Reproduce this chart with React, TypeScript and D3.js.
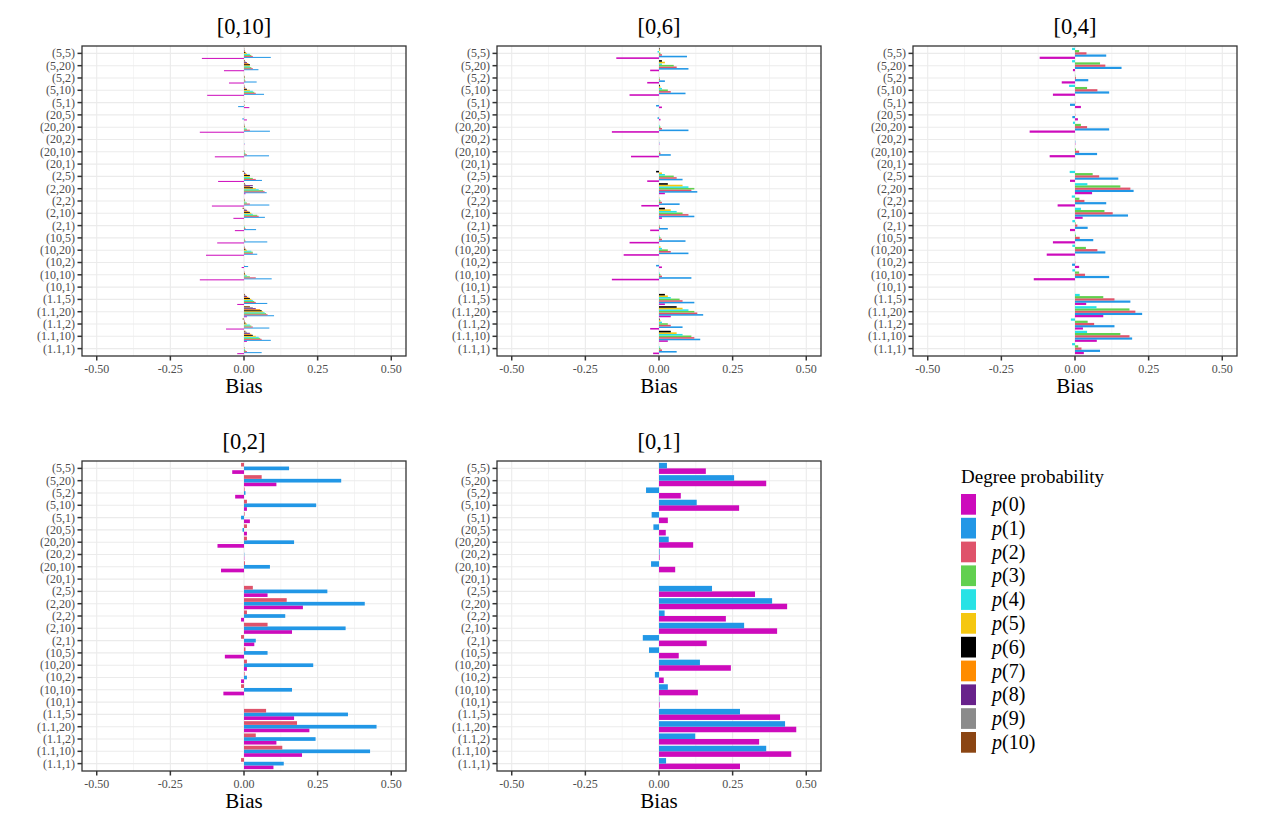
import React from "react";
import * as d3 from "d3";

// categories, top to bottom as drawn
const categories = [
  "(5,5)", "(5,20)", "(5,2)", "(5,10)", "(5,1)",
  "(20,5)", "(20,20)", "(20,2)", "(20,10)", "(20,1)",
  "(2,5)", "(2,20)", "(2,2)", "(2,10)", "(2,1)",
  "(10,5)", "(10,20)", "(10,2)", "(10,10)", "(10,1)",
  "(1.1,5)", "(1.1,20)", "(1.1,2)", "(1.1,10)", "(1.1,1)",
];

const xTicks = [-0.5, -0.25, 0, 0.25, 0.5];
const xMinor = [-0.375, -0.125, 0.125, 0.375];
const xTickLabels = ["-0.50", "-0.25", "0.00", "0.25", "0.50"];

const seriesLabels = ["0", "1", "2", "3", "4", "5", "6", "7", "8", "9", "10"];
const seriesColors = [
  "#CD0BBC", "#2297E6", "#DF536B", "#61D04F", "#28E2E5", "#F5C710",
  "#000000", "#FF8C00", "#68228B", "#8B8B8B", "#8B4513",
];

// each row: bias of p(0), p(1), ... for one category
const bias010 = [
  [-0.143, 0.091, 0.03, 0.025, 0.02, 0.01, 0.005, 0.003, 0.002, 0.001, 0.001],
  [-0.068, 0.049, 0.03, 0.025, 0.02, 0.02, 0.02, 0.015, 0.01, 0.005, 0.003],
  [-0.051, 0.043, 0.005, 0.003, 0.002, 0.002, 0.002, 0.001, 0, 0, 0],
  [-0.125, 0.068, 0.04, 0.035, 0.03, 0.02, 0.01, 0.005, 0.003, 0.002, 0.001],
  [0.018, -0.02, 0.002, 0.001, 0, 0, 0.001, 0, 0, 0, 0],
  [0.01, -0.006, 0.001, 0, 0, 0, 0, 0, 0, 0, 0],
  [-0.15, 0.088, 0.02, 0.01, 0.005, 0.003, 0.002, 0.001, 0.001, 0, 0],
  [0.001, 0.001, 0, 0, 0, 0, 0, 0, 0, 0, 0],
  [-0.099, 0.085, 0.01, 0.005, 0.003, 0.002, 0.001, 0, 0, 0, 0],
  [0, 0, 0, 0, 0, 0, 0, 0, 0, 0, 0],
  [-0.088, 0.061, 0.04, 0.03, 0.02, 0.02, 0.02, 0.01, 0.005, 0.003, -0.005],
  [0.005, 0.077, 0.07, 0.065, 0.05, 0.04, 0.03, 0.02, 0.03, 0.005, 0.003],
  [-0.109, 0.086, 0.02, 0.01, 0.005, 0.003, 0.002, 0.001, 0, 0, 0],
  [-0.036, 0.071, 0.05, 0.045, 0.03, 0.025, 0.02, 0.015, 0.01, 0.005, -0.005],
  [-0.031, 0.041, 0.005, 0.003, 0.002, 0.001, 0, 0, 0, 0, 0],
  [-0.091, 0.079, 0.005, 0.003, 0.002, 0.001, 0, 0, 0, 0, 0],
  [-0.129, 0.045, 0.03, 0.03, 0.025, 0.01, 0.005, 0.003, 0.002, 0.001, 0],
  [-0.008, 0.014, 0.001, 0, 0, 0, 0, 0, 0, 0, 0],
  [-0.15, 0.094, 0.04, 0.02, 0.01, 0.005, 0.003, 0.002, 0.001, 0, 0],
  [0, 0, 0, 0, 0, 0, 0, 0, 0, 0, 0],
  [-0.023, 0.079, 0.04, 0.035, 0.03, 0.025, 0.02, 0.015, 0.01, 0.005, 0.003],
  [0.01, 0.102, 0.08, 0.075, 0.07, 0.065, 0.06, 0.055, 0.04, 0.03, 0.02],
  [-0.061, 0.086, 0.03, 0.025, 0.02, 0.01, 0.005, 0.003, 0.002, 0.001, -0.005],
  [0.01, 0.091, 0.06, 0.055, 0.05, 0.04, 0.03, 0.025, 0.02, 0.01, 0.005],
  [-0.023, 0.06, 0.01, 0.005, 0.003, 0.002, 0.001, 0, 0, 0, 0],
];

const bias06 = [
  [-0.145, 0.095, 0.01, 0.005, -0.005, 0.003, 0.002],
  [-0.03, 0.1, 0.06, 0.05, 0.01, 0.02, 0.01],
  [-0.04, 0.02, 0.003, 0.002, 0, 0, 0],
  [-0.1, 0.09, 0.04, 0.03, 0.01, 0.005, 0.003],
  [0.01, -0.01, 0, 0, 0, 0, 0],
  [0.005, -0.005, 0, 0, 0, 0, 0],
  [-0.16, 0.1, 0.01, 0.005, 0.002, 0, 0],
  [0.001, 0.001, 0, 0, 0, 0, 0],
  [-0.095, 0.04, 0.005, 0.002, 0, 0, 0],
  [0, 0, 0, 0, 0, 0, 0],
  [-0.04, 0.08, 0.06, 0.05, 0.02, 0.01, -0.01],
  [0.02, 0.13, 0.11, 0.12, 0.1, 0.08, 0.03],
  [-0.06, 0.07, 0.01, 0.005, 0.002, 0.001, 0],
  [0.01, 0.12, 0.1, 0.08, 0.06, 0.04, 0.02],
  [-0.03, 0.03, 0.003, 0.002, 0, 0, 0],
  [-0.1, 0.09, 0.01, 0.005, 0.002, 0, 0],
  [-0.12, 0.1, 0.04, 0.03, 0.01, 0.005, 0],
  [0.01, -0.01, 0, 0, 0, 0, 0],
  [-0.16, 0.11, 0.01, 0.005, 0.002, 0, 0],
  [0, 0, 0, 0, 0, 0, 0],
  [0.02, 0.12, 0.08, 0.07, 0.04, 0.03, 0.02],
  [0.04, 0.15, 0.13, 0.12, 0.1, 0.08, 0.06],
  [-0.03, 0.08, 0.04, 0.03, 0.01, 0.005, 0.002],
  [0.03, 0.14, 0.12, 0.11, 0.08, 0.06, 0.04],
  [-0.02, 0.06, 0.01, 0.005, 0.002, 0, 0],
];

const bias04 = [
  [-0.12, 0.106, 0.039, 0.014, -0.01],
  [-0.007, 0.158, 0.103, 0.085, -0.01],
  [-0.045, 0.045, 0.003, 0.001, 0],
  [-0.075, 0.116, 0.076, 0.041, -0.02],
  [0.02, -0.017, 0.001, 0, 0],
  [0.01, -0.009, 0.001, 0, 0],
  [-0.154, 0.116, 0.041, 0.02, -0.007],
  [0.001, 0.001, 0, 0, 0],
  [-0.086, 0.075, 0.014, 0.003, 0],
  [0, 0, 0, 0, 0],
  [-0.017, 0.147, 0.082, 0.06, -0.018],
  [0.058, 0.199, 0.188, 0.154, 0.042],
  [-0.059, 0.106, 0.032, 0.015, -0.011],
  [0.026, 0.18, 0.128, 0.1, 0.02],
  [-0.017, 0.043, 0.008, 0.002, -0.009],
  [-0.075, 0.062, 0.016, 0.003, 0.001],
  [-0.096, 0.103, 0.076, 0.037, -0.009],
  [0.014, -0.01, 0.001, 0, 0],
  [-0.14, 0.116, 0.034, 0.014, -0.009],
  [0, 0, 0, 0, 0],
  [0.038, 0.188, 0.134, 0.096, 0.016],
  [0.096, 0.228, 0.205, 0.185, 0.073],
  [0.027, 0.134, 0.065, 0.043, -0.014],
  [0.074, 0.194, 0.185, 0.154, 0.041],
  [0.03, 0.085, 0.022, 0.011, -0.01],
];

const bias02 = [
  [-0.04, 0.153, -0.01],
  [0.11, 0.33, 0.06],
  [-0.03, 0.005, 0.002],
  [0.01, 0.245, 0.01],
  [0.02, -0.01, 0.002],
  [0.01, -0.005, 0.01],
  [-0.09, 0.17, 0.01],
  [0.001, 0.001, 0],
  [-0.078, 0.088, 0.003],
  [0, 0, 0],
  [0.08, 0.283, 0.03],
  [0.2, 0.41, 0.145],
  [-0.01, 0.14, 0.01],
  [0.163, 0.345, 0.08],
  [0.035, 0.04, -0.01],
  [-0.065, 0.08, 0.005],
  [0.01, 0.235, 0.01],
  [-0.01, 0.01, 0.002],
  [-0.07, 0.163, -0.01],
  [0, 0, 0],
  [0.17, 0.353, 0.075],
  [0.222, 0.45, 0.18],
  [0.11, 0.243, 0.04],
  [0.197, 0.428, 0.13],
  [0.1, 0.135, -0.01],
];

const bias01 = [
  [0.159, 0.027],
  [0.364, 0.255],
  [0.074, -0.044],
  [0.272, 0.128],
  [0.03, -0.025],
  [0.023, -0.019],
  [0.116, 0.033],
  [0.002, 0.002],
  [0.055, -0.027],
  [0, 0],
  [0.326, 0.18],
  [0.435, 0.384],
  [0.227, 0.019],
  [0.401, 0.289],
  [0.162, -0.055],
  [0.067, -0.034],
  [0.244, 0.139],
  [0.016, -0.014],
  [0.132, 0.03],
  [0.002, 0.001],
  [0.411, 0.275],
  [0.466, 0.428],
  [0.34, 0.123],
  [0.449, 0.364],
  [0.275, 0.024],
];

const FONT = "'Liberation Serif', 'Times New Roman', serif";
const PW = 324;
const PH = 310;

type PanelProps = { title: string; rows: number[][]; x0: number; y0: number };

function Panel({ title, rows, x0, y0 }: PanelProps) {
  const x = d3.scaleLinear().domain([-0.55, 0.55]).range([x0, x0 + PW]);
  const y = d3.scalePoint<string>().domain(categories).range([y0, y0 + PH]).padding(0.6);
  const step = y.step();
  const n = rows[0].length;
  const bw = (0.9 * step) / n;
  const bottom = y0 + PH;

  return (
    <g>
      <rect x={x0} y={y0} width={PW} height={PH} fill="#fff" />
      {xMinor.map((t) => (
        <line key={"mn" + t} x1={x(t)} x2={x(t)} y1={y0} y2={bottom} stroke="#EBEBEB" strokeWidth={0.55} />
      ))}
      {xTicks.map((t) => (
        <line key={"mj" + t} x1={x(t)} x2={x(t)} y1={y0} y2={bottom} stroke="#EBEBEB" strokeWidth={1.1} />
      ))}
      {categories.map((c) => (
        <line key={"h" + c} x1={x0} x2={x0 + PW} y1={y(c)} y2={y(c)} stroke="#EBEBEB" strokeWidth={1.1} />
      ))}
      {categories.map((c, i) =>
        rows[i].map((v, k) => {
          const top = (y(c) as number) + 0.45 * step - (k + 1) * bw;
          return (
            <rect
              key={c + "-" + k}
              x={Math.min(x(0), x(v))}
              y={top}
              width={Math.abs(x(v) - x(0))}
              height={bw}
              fill={seriesColors[k]}
            />
          );
        })
      )}
      <rect x={x0} y={y0} width={PW} height={PH} fill="none" stroke="#333333" strokeWidth={1.3} />
      {categories.map((c) => (
        <g key={"yl" + c}>
          <line x1={x0 - 4.5} x2={x0} y1={y(c)} y2={y(c)} stroke="#333333" strokeWidth={1.5} />
          <text x={x0 - 7} y={y(c)} dy="0.33em" textAnchor="end" fontSize={12} fill="#4D4D4D" fontFamily={FONT}>
            {c}
          </text>
        </g>
      ))}
      {xTicks.map((t, i) => (
        <g key={"xl" + t}>
          <line x1={x(t)} x2={x(t)} y1={bottom} y2={bottom + 4.5} stroke="#333333" strokeWidth={1.5} />
          <text x={x(t)} y={bottom + 17} textAnchor="middle" fontSize={12} fill="#4D4D4D" fontFamily={FONT}>
            {xTickLabels[i]}
          </text>
        </g>
      ))}
      <text x={x0 + PW / 2} y={bottom + 37} textAnchor="middle" fontSize={21} fill="#000" fontFamily={FONT}>
        Bias
      </text>
      <text x={x0 + PW / 2} y={y0 - 12} textAnchor="middle" fontSize={22.5} fill="#000" fontFamily={FONT}>
        {title}
      </text>
    </g>
  );
}

export default function App() {
  const panels = [
    { title: "[0,10]", rows: bias010, x0: 82, y0: 46 },
    { title: "[0,6]", rows: bias06, x0: 497, y0: 46 },
    { title: "[0,4]", rows: bias04, x0: 913, y0: 46 },
    { title: "[0,2]", rows: bias02, x0: 82, y0: 461 },
    { title: "[0,1]", rows: bias01, x0: 497, y0: 461 },
  ];
  const legendTop = 494;
  const legendStep = 23.8;
  return (
    <svg width={1271} height={825} style={{ position: "absolute", left: 0, top: 0, background: "#fff" }}>
      <rect width={1271} height={825} fill="#fff" />
      {panels.map((p) => (
        <Panel key={p.title} {...p} />
      ))}
      <text x={961} y={483} fontSize={19} fontFamily={FONT} fill="#000">
        Degree probability
      </text>
      {seriesLabels.map((s, i) => (
        <g key={"lg" + s}>
          <rect x={961} y={legendTop + i * legendStep} width={15} height={20.7} fill={seriesColors[i]} />
          <text x={992} y={legendTop + i * legendStep + 10.35} dy="0.33em" fontSize={20} fontFamily={FONT} fill="#000">
            <tspan fontStyle="italic">p</tspan>({s})
          </text>
        </g>
      ))}
    </svg>
  );
}
